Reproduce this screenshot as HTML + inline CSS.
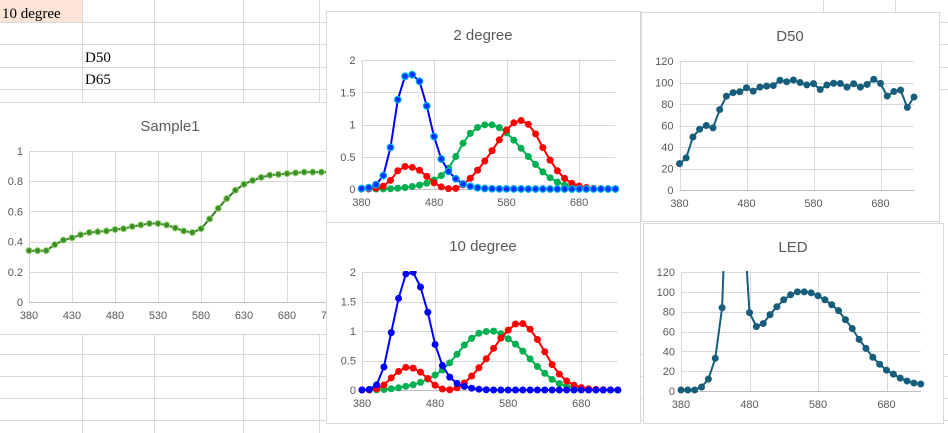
<!DOCTYPE html>
<html><head><meta charset="utf-8">
<style>
html,body{margin:0;padding:0;background:#fff;}
svg{display:block;font-family:"Liberation Sans",sans-serif;}
.cell{font-family:"Liberation Serif",serif;font-size:15px;fill:#000;}
</style></head>
<body>
<svg id="s" width="948" height="433" viewBox="0 0 948 433" xmlns="http://www.w3.org/2000/svg">
<g id="grid" stroke="#dadada" stroke-width="1"></g>
<rect x="0" y="0" width="82" height="22" fill="#fce4d6"/>
<text class="cell" x="2" y="18">10 degree</text>
<text class="cell" x="85" y="62">D50</text>
<text class="cell" x="85" y="84">D65</text>
<g id="charts"></g>
</svg>
<script>
const NS='http://www.w3.org/2000/svg';
const wl=[];for(let w=380;w<=730;w+=10)wl.push(w);
// Sample1 reflectance
const sample1=[0.34,0.34,0.34,0.38,0.41,0.425,0.445,0.46,0.465,0.47,0.48,0.485,0.5,0.51,0.52,0.52,0.51,0.49,0.47,0.46,0.485,0.55,0.62,0.685,0.74,0.78,0.805,0.825,0.84,0.845,0.85,0.855,0.86,0.86,0.86,0.86];
// 2 degree observer
const x2=[0.0014,0.0042,0.0143,0.0435,0.1344,0.2839,0.3483,0.3362,0.2908,0.1954,0.0956,0.032,0.0049,0.0093,0.0633,0.1655,0.2904,0.4334,0.5945,0.7621,0.9163,1.0263,1.0622,1.0026,0.8544,0.6424,0.4479,0.2835,0.1649,0.0874,0.0468,0.0227,0.0114,0.0058,0.0029,0.0014];
const y2=[0,0.0001,0.0004,0.0012,0.004,0.0116,0.023,0.038,0.06,0.091,0.139,0.208,0.323,0.503,0.71,0.862,0.954,0.995,0.995,0.952,0.87,0.757,0.631,0.503,0.381,0.265,0.175,0.107,0.061,0.032,0.017,0.0082,0.0041,0.0021,0.001,0.0005];
const z2=[0.0065,0.0201,0.0679,0.2074,0.6456,1.3856,1.7471,1.7721,1.6692,1.2876,0.813,0.4652,0.272,0.1582,0.0782,0.0422,0.0203,0.0087,0.0039,0.0021,0.0017,0.0011,0.0008,0.0003,0.0002,0,0,0,0,0,0,0,0,0,0,0];
// 10 degree observer
const x10=[0.0002,0.0024,0.0191,0.0847,0.2045,0.3147,0.3837,0.3707,0.3023,0.1956,0.0805,0.0162,0.0038,0.0375,0.1177,0.2365,0.3768,0.5298,0.7052,0.8787,1.0142,1.1185,1.124,1.0305,0.8563,0.6475,0.4316,0.2683,0.1526,0.0813,0.0409,0.0199,0.0096,0.0046,0.0022,0.001];
const y10=[0,0.0003,0.002,0.0088,0.0214,0.0387,0.0621,0.0895,0.1282,0.1852,0.2536,0.3391,0.4608,0.6067,0.7618,0.8752,0.962,0.9918,0.9973,0.9556,0.8689,0.7774,0.6583,0.528,0.3981,0.2835,0.1798,0.1076,0.0603,0.0318,0.0159,0.0077,0.0037,0.0018,0.0008,0.0004];
const z10=[0.0007,0.0105,0.086,0.3894,0.9725,1.5535,1.9673,1.9948,1.7454,1.3176,0.7721,0.4153,0.2185,0.112,0.0607,0.0305,0.0137,0.004,0,0,0,0,0,0,0,0,0,0,0,0,0,0,0,0,0,0];
// D50
const d50=[24.49,29.87,49.31,56.51,60.03,57.82,74.82,87.25,90.61,91.37,95.11,91.96,95.72,96.61,97.13,102.1,100.75,102.32,100,97.74,98.92,93.5,97.69,99.27,99.04,95.72,98.86,95.67,98.19,103,99.13,87.38,91.6,92.89,76.85,86.51];
// LED
const led=[1,1,1,4,12,33,84,280,300,190,79,65,68,77,85,92,97,100,100,99,96,92,87,81,72,63,52,43,34,27,21,17,13,10,8,7];
const sampleTicks=[380,430,480,530,580,630,680,730];
const cmfTicks=[380,480,580,680];

function el(tag,attrs,parent,name){const e=document.createElementNS(NS,tag);for(const k in attrs)e.setAttribute(k,attrs[k]);


parent.appendChild(e);return e;}

const grid=document.getElementById('grid');
[22,44,67,89,354,376,398,420].forEach(y=>{el('line',{x1:0,x2:948,y1:y+0.5,y2:y+0.5},grid,'row-line');});
[82,154,243,319].forEach(x=>{el('line',{x1:x+0.5,x2:x+0.5,y1:0,y2:433},grid,'column-line');});
[823,895].forEach(x=>{el('line',{x1:x+0.5,x2:x+0.5,y1:0,y2:12},grid,'column-line');});

const charts=document.getElementById('charts');
let cid=0;
function chart(o){
  cid++;
  const g=el('g',{},charts,o.name);
  el('rect',{x:o.bx+0.5,y:o.by+0.5,width:o.bw,height:o.bh,fill:'#fff',stroke:'#d9d9d9'},g,'chart-area');
  const t=el('text',{x:o.tx,y:o.by+29,'text-anchor':'middle','font-size':15,fill:'#595959'},g,'chart-title');t.textContent=o.title;
  const X=w=>o.l+(w-380)*o.pxnm;
  const Y=v=>o.b-(v-o.ymin)/(o.ymax-o.ymin)*(o.b-o.t);
  const right=X(730);
  o.yticks.forEach(v=>{
    el('line',{x1:o.l,x2:Math.min(right,o.gr||right),y1:Math.round(Y(v))+0.5,y2:Math.round(Y(v))+0.5,stroke:'#d9d9d9'},g,'y-gridline');
    const tt=el('text',{x:o.l-6,y:Y(v)+4,'text-anchor':'end','font-size':11,fill:'#595959'},g,'y-tick-label');tt.textContent=v;
  });
  o.xticks.forEach(w=>{
    el('line',{x1:Math.round(X(w))+0.5,x2:Math.round(X(w))+0.5,y1:o.t,y2:o.b,stroke:'#d9d9d9'},g,'x-gridline');
    const tt=el('text',{x:X(w),y:o.b+17,'text-anchor':'middle','font-size':11,fill:'#595959'},g,'x-tick-label');tt.textContent=w;
  });
  el('line',{x1:o.l,x2:right,y1:o.b+0.5,y2:o.b+0.5,stroke:'#bfbfbf'},g,'x-axis-line');
  const cp=el('clipPath',{id:'c'+cid},g,'plot-clip');
  el('rect',{x:o.l-6,y:o.t-1,width:right-o.l+12,height:o.b-o.t+7},cp,'plot-clip-rect');
  const pg=el('g',{'clip-path':'url(#c'+cid+')'},g,'plot-area');
  o.series.forEach(s=>{
    const pts=s.data.map((v,i)=>X(wl[i]).toFixed(1)+','+Y(v).toFixed(1));
    el('polyline',{points:pts.join(' '),fill:'none',stroke:s.line,'stroke-width':2,'stroke-linejoin':'round'},pg,s.name+'-line');
    s.data.forEach((v,i)=>{
      el('circle',{cx:X(wl[i]),cy:Y(v),r:s.r,fill:s.fill,stroke:s.stroke||'none','stroke-width':s.sw||0},pg,s.name+'-point');
    });
  });
}
chart({name:'sample1-chart',title:'Sample1',bx:-2,by:102,bw:340,bh:232,tx:170,l:29,t:151,b:302,pxnm:0.86,ymin:0,ymax:1,
  yticks:[0,0.2,0.4,0.6,0.8,1],xticks:sampleTicks,
  series:[{name:'sample1',data:sample1,line:'#2e7d1e',fill:'#3c8c2a',stroke:'#8fd46a',sw:1,r:3}]});
chart({name:'cmf-2-degree-chart',title:'2 degree',bx:326,by:11,bw:314,bh:211,tx:483,l:361.5,t:60,b:189,pxnm:0.7253,ymin:0,ymax:2,
  yticks:[0,0.5,1,1.5,2],xticks:cmfTicks,
  series:[{name:'y-bar',data:y2,line:'#00b050',fill:'#00b050',r:3.5},
          {name:'x-bar',data:x2,line:'#ff0000',fill:'#ff0000',r:3.5},
          {name:'z-bar',data:z2,line:'#0000ff',fill:'#0033ff',stroke:'#00b0f0',sw:1.2,r:3.3}]});
chart({name:'cmf-10-degree-chart',title:'10 degree',bx:326,by:222,bw:314,bh:201,tx:483,l:362,t:272,b:390,pxnm:0.731,ymin:0,ymax:2,
  yticks:[0,0.5,1,1.5,2],xticks:cmfTicks,
  series:[{name:'y-bar',data:y10,line:'#00b050',fill:'#00b050',r:3.5},
          {name:'x-bar',data:x10,line:'#ff0000',fill:'#ff0000',r:3.5},
          {name:'z-bar',data:z10,line:'#0000ff',fill:'#0000ff',r:3.5}]});
chart({name:'d50-chart',title:'D50',bx:641,by:12,bw:298,bh:209,tx:790,l:679.5,t:61,b:190,pxnm:0.67,ymin:0,ymax:120,
  yticks:[0,20,40,60,80,100,120],xticks:cmfTicks,
  series:[{name:'d50',data:d50,line:'#175d7c',fill:'#175d7c',r:3.5}]});
chart({name:'led-chart',title:'LED',bx:643,by:223,bw:300,bh:200,tx:793,l:681,t:272,b:391,pxnm:0.685,ymin:0,ymax:120,
  yticks:[0,20,40,60,80,100,120],xticks:cmfTicks,
  series:[{name:'led',data:led,line:'#175d7c',fill:'#175d7c',r:3.5}]});
</script>
</body></html>
